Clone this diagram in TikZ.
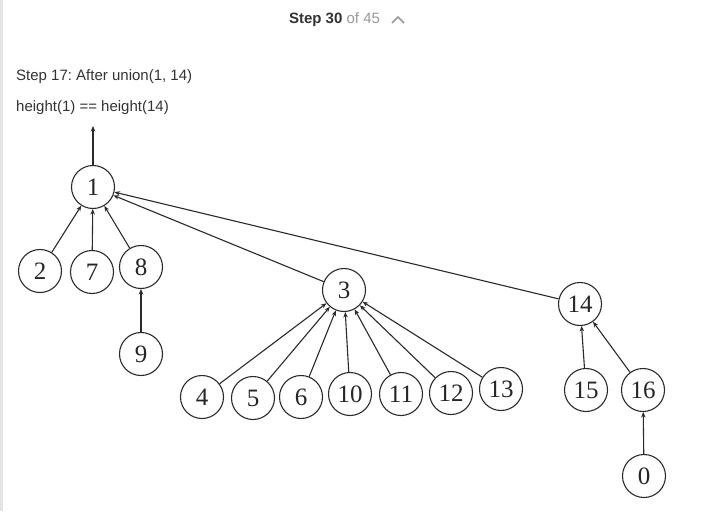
\documentclass[tikz,border=0pt]{standalone}
\usepackage{fontspec}
\setmainfont{Liberation Serif}
\newfontfamily\uisans{Liberation Sans}
\usetikzlibrary{arrows.meta}
\frenchspacing
\definecolor{txt}{HTML}{333333}
\definecolor{mut}{HTML}{999999}
\definecolor{edge}{HTML}{2A2A2A}
\definecolor{strip}{HTML}{E4E4E4}
\tikzset{
  vtx/.style={circle,draw=edge,line width=1.1pt,minimum size=43pt,inner sep=0pt,
              font=\fontsize{25}{25}\selectfont,text=black!85},
  lnk/.style={draw=edge,line width=1.1pt,-{Stealth[length=5.5pt,width=4.5pt]}},
  ui/.style={font=\uisans\fontsize{15}{16}\selectfont,text=txt,anchor=base west,inner sep=0pt}
}
\begin{document}
\begin{tikzpicture}[x=1pt,y=-1pt]
\useasboundingbox (0,0) rectangle (706,511);
\fill[white] (0,0) rectangle (706,511);
\fill[strip] (0,0) rectangle (3,511);
% header
\node[ui,anchor=base] (hdr) at (334.5,24) {\textbf{Step 30} {\color{mut}of 45}};
\draw[mut,line width=1.5pt] (392,23) -- (398,17) -- (404,23);
\node[ui] (t1) at (16,80) {Step 17: After union(1, 14)};
\node[ui] (t2) at (16,111) {height(1) == height(14)};
% nodes
\node[vtx] (n1) at (93,187) {1};
\node[vtx] (n2) at (40,271) {2};
\node[vtx] (n7) at (92,272) {7};
\node[vtx] (n8) at (141,267) {8};
\node[vtx] (n9) at (141,354) {9};
\node[vtx] (n3) at (344,290) {3};
\node[vtx] (n14) at (580,304) {14};
\node[vtx] (n4) at (202,397) {4};
\node[vtx] (n5) at (253,398) {5};
\node[vtx] (n6) at (301,397) {6};
\node[vtx] (n10) at (350,394) {10};
\node[vtx] (n11) at (401,394) {11};
\node[vtx] (n12) at (451,393) {12};
\node[vtx] (n13) at (501,389) {13};
\node[vtx] (n15) at (586,390) {15};
\node[vtx] (n16) at (643,390) {16};
\node[vtx] (n0) at (644,476) {0};
\coordinate (top) at (93,126);
% edges
\draw[lnk] (n1) -- (top);
\draw[lnk] (n2) -- (n1);
\draw[lnk] (n7) -- (n1);
\draw[lnk] (n8) -- (n1);
\draw[lnk] (n9) -- (n8);
\draw[lnk] (n3) -- (n1);
\draw[lnk] (n14) -- (n1);
\foreach \c in {n4,n5,n6,n10,n11,n12,n13} \draw[lnk] (\c) -- (n3);
\draw[lnk] (n15) -- (n14);
\draw[lnk] (n16) -- (n14);
\draw[lnk] (n0) -- (n16);
\end{tikzpicture}
\end{document}
